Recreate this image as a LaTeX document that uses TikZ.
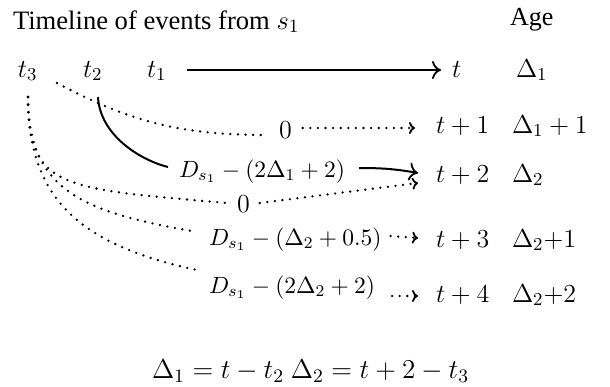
\RequirePackage{fix-cm}
\documentclass[tikz,border=0pt]{standalone}
\usepackage[no-math]{fontspec}
\setmainfont{Liberation Serif}
\usetikzlibrary{calc,arrows.meta}
\begin{document}
\begin{tikzpicture}[x=0.5pt,y=0.5pt,
  lbl/.style={inner sep=0pt, outer sep=0pt, anchor=base west, font=\fontsize{13}{15}\selectfont},
  slbl/.style={lbl, font=\fontsize{11.75}{14}\selectfont},
  solidline/.style={line width=1pt},
  dotline/.style={line width=1.3pt, dash pattern=on 0pt off 3.8pt, line cap=round},
  cmtip/.style={-{Computer Modern Rightarrow[length=4.5pt,width=9pt,line width=0.9pt]}},
  dtip/.style={-{Computer Modern Rightarrow[length=3pt,width=6pt,line width=0.9pt]}}
]
\useasboundingbox (0,0) rectangle (610,-386);
% labels
\node[lbl, font=\fontsize{13.3}{15}\selectfont] (title) at (13,-29) {Timeline of events from $s_1$};
\node[lbl] (age) at (510,-25) {Age};
\node[lbl] (t3) at (18,-77) {$t_3$};
\node[lbl] (t2) at (83,-77) {$t_2$};
\node[lbl] (t1) at (147,-77) {$t_1$};
\node[lbl] (t0) at (452,-77) {$t$};
\node[lbl] (a1) at (516,-77) {$\Delta_1$};
\node[lbl] (z1) at (279,-138) {$0$};
\node[lbl] (tp1) at (436,-133) {$t+1$};
\node[lbl] (a2) at (512,-133) {$\Delta_1+1$};
\node[slbl] (D1) at (179,-177) {$D_{s_1}-(2\Delta_1+2)$};
\node[lbl] (tp2) at (436,-182) {$t+2$};
\node[lbl] (a3) at (512,-182) {$\Delta_2$};
\node[lbl] (z2) at (237,-212) {$0$};
\node[slbl] (D2) at (209,-245) {$D_{s_1}-(\Delta_2+0.5)$};
\node[lbl] (tp3) at (436,-247) {$t+3$};
\node[lbl] (a4) at (512,-247) {$\Delta_2{+}1$};
\node[slbl] (D3) at (209,-293) {$D_{s_1}-(2\Delta_2+2)$};
\node[lbl] (tp4) at (436,-302) {$t+4$};
\node[lbl] (a5) at (512,-302) {$\Delta_2{+}2$};
\node[lbl, font=\fontsize{13.6}{15}\selectfont] (eq) at (152,-378) {$\Delta_1=t-t_2\ \Delta_2=t+2-t_3$};
% connectors
\draw[solidline, cmtip] ($(t1.base east)+(10pt,3.5pt)$) -- ($(t0.base west)+(-5.5pt,3.5pt)$);
\draw[dotline] ($(t2.base west)+(-13pt,-3pt)$) to[out=-28,in=180] ($(z1.base west)+(-6pt,1.5pt)$);
\draw[dotline, dtip] ($(z1.base east)+(5.5pt,5pt)$) -- ($(tp1.base west)+(-10.5pt,2.5pt)$);
\draw[solidline] ($(t2.base west)+(7.5pt,-10pt)$) to[out=-87,in=166,out distance=19pt,in distance=14.5pt] ($(D1.base west)+(-5.5pt,5pt)$);
\draw[solidline, cmtip] ($(D1.base east)+(7pt,4.5pt)$) to[out=0,in=170] ($(tp2.base west)+(-9pt,4.5pt)$);
\draw[dotline, dtip] ($(z2.base east)+(5pt,4.5pt)$) -- ($(tp2.base west)+(-9pt,-0.5pt)$);
\draw[dotline] ($(t3.base west)+(5pt,-10pt)$) to[out=-90,in=175,out distance=46pt,in distance=83.5pt] ($(z2.base west)+(-5pt,4.5pt)$);
\draw[dotline] ($(t3.base west)+(5pt,-10pt)$) to[out=-90,in=170,out distance=48pt,in distance=56pt] ($(D2.base west)+(-6pt,6.5pt)$);
\draw[dotline] ($(t3.base west)+(5pt,-10pt)$) to[out=-90,in=168,out distance=50pt,in distance=61pt] ($(D3.base west)+(-6pt,11.5pt)$);
\draw[dotline, dtip] ($(D2.base east)+(4.5pt,4.5pt)$) -- ($(tp3.base west)+(-9pt,4.5pt)$);
\draw[dotline, dtip] ($(D3.base east)+(8.5pt,-1.5pt)$) -- ($(tp4.base west)+(-9pt,3pt)$);
\end{tikzpicture}
\end{document}
